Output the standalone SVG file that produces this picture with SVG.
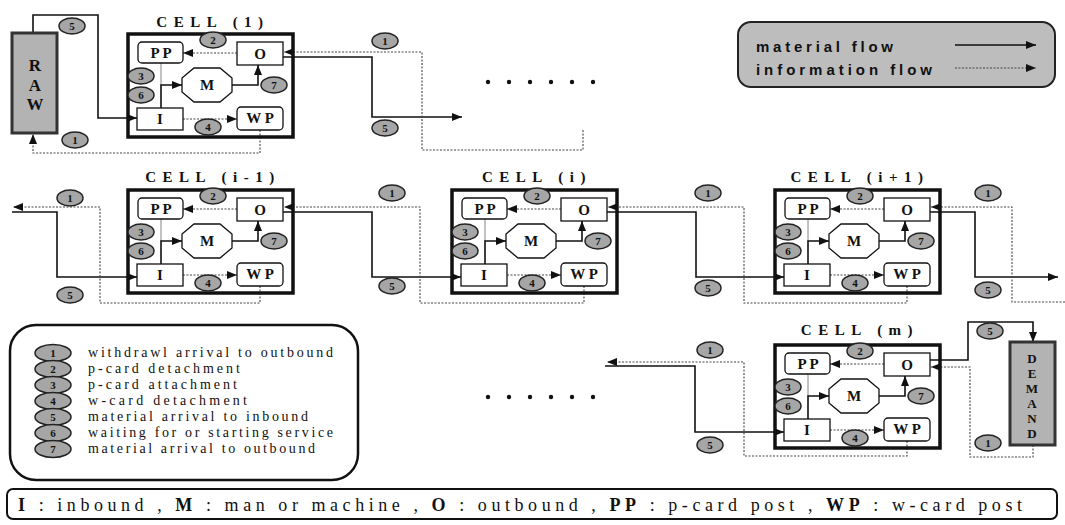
<svg xmlns="http://www.w3.org/2000/svg" width="1065" height="525" viewBox="0 0 1065 525">
<style>
.cell{fill:none;stroke:#111;stroke-width:3.5}
.box{fill:#fff;stroke:#111;stroke-width:1.3}
.lbl{font-family:"Liberation Serif",serif;font-weight:bold;font-size:15px;fill:#111;text-anchor:middle}
.title{font-family:"Liberation Serif",serif;font-weight:bold;font-size:15px;fill:#111;text-anchor:middle;letter-spacing:6.5px}
.mat{fill:none;stroke:#111;stroke-width:1.6}
.info{fill:none;stroke:#444;stroke-width:1.1;stroke-dasharray:2 1.5}
.thin{fill:none;stroke:#777;stroke-width:0.9}
.bdg ellipse{fill:#a6a6a6;stroke:#222;stroke-width:1.5}
.bdg text{font-family:"Liberation Serif",serif;font-weight:bold;font-size:11px;fill:#111;text-anchor:middle}
.stock{fill:#b3b3b3;stroke:#333;stroke-width:3}
.vt{font-family:"Liberation Serif",serif;font-weight:bold;fill:#111;text-anchor:middle}
.leg{font-family:"Liberation Serif",serif;font-size:14px;fill:#111}
.dot{fill:#111}
</style>
<defs>
<marker id="ah" viewBox="0 0 10 8" refX="10" refY="4" markerWidth="10" markerHeight="8" markerUnits="userSpaceOnUse" orient="auto"><path d="M0,0 L10,4 L0,8 z" fill="#111"/></marker>
<g id="cellbody">
<rect class="cell" x="0" y="0" width="165" height="103"/>
<path class="info" d="M109,19 H55" marker-end="url(#ah)"/>
<path class="thin" d="M33,29 V51"/>
<path class="mat" d="M33,74 V51 H54" marker-end="url(#ah)"/>
<path class="mat" d="M104,51 H130 V31" marker-end="url(#ah)"/>
<path class="info" d="M55,85 H109" marker-end="url(#ah)"/>
<rect class="box" x="10" y="8" width="45" height="21" rx="4"/>
<text class="lbl" x="33" y="24">P P</text>
<rect class="box" x="109" y="8" width="46" height="23"/>
<text class="lbl" x="132" y="25">O</text>
<polygon class="box" points="66,34 92,34 104,44 104,58 92,68 66,68 54,58 54,44"/>
<text class="lbl" x="79" y="56">M</text>
<rect class="box" x="9" y="74" width="46" height="22"/>
<text class="lbl" x="32" y="90">I</text>
<rect class="box" x="109" y="73" width="46" height="23" rx="4"/>
<text class="lbl" x="132" y="89">W P</text>
<g class="bdg"><ellipse cx="85" cy="6" rx="13" ry="8"/><text x="85" y="10">2</text></g>
<g class="bdg"><ellipse cx="13" cy="42" rx="13" ry="8"/><text x="13" y="46">3</text></g>
<g class="bdg"><ellipse cx="13" cy="61" rx="13" ry="8"/><text x="13" y="65">6</text></g>
<g class="bdg"><ellipse cx="146" cy="51" rx="13" ry="8"/><text x="146" y="55">7</text></g>
<g class="bdg"><ellipse cx="80" cy="93" rx="13" ry="8"/><text x="80" y="97">4</text></g>
</g>
</defs>

<g id="connectors">
<path class="mat" d="M33,33 V15 H98 V118 H137" marker-end="url(#ah)"/>
<path class="info" d="M260,130 V153 H33 V134" marker-end="url(#ah)"/>
<path class="mat" d="M283,57 H372 V117 H462" marker-end="url(#ah)"/>
<path class="info" d="M583,130 V150 H422 V52 H284" marker-end="url(#ah)"/>
<path class="mat" d="M12,212 H57 V277 H137" marker-end="url(#ah)"/>
<path class="info" d="M260,286 V303 H100 V207 H13" marker-end="url(#ah)"/>
<path class="mat" d="M283,212 H372 V277 H461" marker-end="url(#ah)"/>
<path class="info" d="M584,286 V303 H420 V207 H284" marker-end="url(#ah)"/>
<path class="mat" d="M607,212 H696 V277 H784" marker-end="url(#ah)"/>
<path class="info" d="M907,286 V303 H744 V207 H608" marker-end="url(#ah)"/>
<path class="mat" d="M930,212 H975 V277 H1058" marker-end="url(#ah)"/>
<path class="info" d="M1065,302 H1012 V207 H931" marker-end="url(#ah)"/>
<path class="mat" d="M605,366 H695 V432 H784" marker-end="url(#ah)"/>
<path class="info" d="M907,441 V456 H744 V362 H607" marker-end="url(#ah)"/>
<path class="mat" d="M930,360 H968 V322 H1033 V342" marker-end="url(#ah)"/>
<path class="info" d="M1033,445 V457 H970 V367 H931" marker-end="url(#ah)"/>
<g class="bdg"><ellipse cx="72" cy="26" rx="13" ry="8"/><text x="72" y="30">5</text></g>
<g class="bdg"><ellipse cx="75" cy="140" rx="13" ry="8"/><text x="75" y="144">1</text></g>
<g class="bdg"><ellipse cx="385" cy="41" rx="13" ry="8"/><text x="385" y="45">1</text></g>
<g class="bdg"><ellipse cx="385" cy="128" rx="13" ry="8"/><text x="385" y="132">5</text></g>
<g class="bdg"><ellipse cx="70" cy="198" rx="13" ry="8"/><text x="70" y="202">1</text></g>
<g class="bdg"><ellipse cx="70" cy="295" rx="13" ry="8"/><text x="70" y="299">5</text></g>
<g class="bdg"><ellipse cx="392" cy="193" rx="13" ry="8"/><text x="392" y="197">1</text></g>
<g class="bdg"><ellipse cx="392" cy="286" rx="13" ry="8"/><text x="392" y="290">5</text></g>
<g class="bdg"><ellipse cx="708" cy="193" rx="13" ry="8"/><text x="708" y="197">1</text></g>
<g class="bdg"><ellipse cx="708" cy="288" rx="13" ry="8"/><text x="708" y="292">5</text></g>
<g class="bdg"><ellipse cx="988" cy="193" rx="13" ry="8"/><text x="988" y="197">1</text></g>
<g class="bdg"><ellipse cx="988" cy="290" rx="13" ry="8"/><text x="988" y="294">5</text></g>
<g class="bdg"><ellipse cx="710" cy="350" rx="13" ry="8"/><text x="710" y="354">1</text></g>
<g class="bdg"><ellipse cx="710" cy="445" rx="13" ry="8"/><text x="710" y="449">5</text></g>
<g class="bdg"><ellipse cx="990" cy="331" rx="13" ry="8"/><text x="990" y="335">5</text></g>
<g class="bdg"><ellipse cx="988" cy="443" rx="13" ry="8"/><text x="988" y="447">1</text></g>
</g>

<g id="raw">
<rect class="stock" x="12" y="33" width="45" height="100"/>
<text class="vt" font-size="17" x="35" y="71">R</text>
<text class="vt" font-size="17" x="35" y="91">A</text>
<text class="vt" font-size="17" x="35" y="110">W</text>
</g>
<g id="demand">
<rect class="stock" x="1010" y="342" width="45" height="103"/>
<text class="vt" font-size="13" x="1032" y="363">D</text>
<text class="vt" font-size="13" x="1032" y="378">E</text>
<text class="vt" font-size="13" x="1032" y="393">M</text>
<text class="vt" font-size="13" x="1032" y="408">A</text>
<text class="vt" font-size="13" x="1032" y="423">N</text>
<text class="vt" font-size="13" x="1032" y="438">D</text>
</g>

<g id="cell-1">
<text class="title" x="213" y="27">CELL (1)</text>
<use href="#cellbody" transform="translate(128,34)"/>
</g>
<g id="cell-i-1">
<text class="title" x="213" y="182">CELL (i-1)</text>
<use href="#cellbody" transform="translate(128,190)"/>
</g>
<g id="cell-i">
<text class="title" x="537" y="182">CELL (i)</text>
<use href="#cellbody" transform="translate(452,190)"/>
</g>
<g id="cell-i1">
<text class="title" x="860" y="182">CELL (i+1)</text>
<use href="#cellbody" transform="translate(775,190)"/>
</g>
<g id="cell-m">
<text class="title" x="860" y="335">CELL (m)</text>
<use href="#cellbody" transform="translate(775,345)"/>
</g>

<g id="dots-top">
<circle class="dot" cx="488" cy="82" r="2.2"/><circle class="dot" cx="509" cy="82" r="2.2"/><circle class="dot" cx="530" cy="82" r="2.2"/><circle class="dot" cx="551" cy="82" r="2.2"/><circle class="dot" cx="572" cy="82" r="2.2"/><circle class="dot" cx="593" cy="82" r="2.2"/>
</g>
<g id="dots-bottom">
<circle class="dot" cx="488" cy="397" r="2.2"/><circle class="dot" cx="509" cy="397" r="2.2"/><circle class="dot" cx="530" cy="397" r="2.2"/><circle class="dot" cx="551" cy="397" r="2.2"/><circle class="dot" cx="572" cy="397" r="2.2"/><circle class="dot" cx="593" cy="397" r="2.2"/>
</g>

<g id="flow-legend">
<rect x="738" y="22" width="317" height="65" rx="13" fill="#bdbdbd" stroke="#222" stroke-width="2"/>
<text x="756" y="52" font-family="Liberation Sans,Arial,sans-serif" font-weight="bold" font-size="15" fill="#111" textLength="137" lengthAdjust="spacing">material flow</text>
<text x="756" y="75" font-family="Liberation Sans,Arial,sans-serif" font-weight="bold" font-size="15" fill="#111" textLength="176" lengthAdjust="spacing">information flow</text>
<path class="mat" d="M955,45 H1036" marker-end="url(#ah)"/>
<path class="info" d="M955,68 H1036" marker-end="url(#ah)"/>
</g>

<g id="event-legend">
<rect x="10" y="325" width="348" height="155" rx="26" fill="none" stroke="#111" stroke-width="2.5"/>
<g class="bdg"><ellipse cx="53" cy="353" rx="18" ry="8.5"/><text x="53" y="357">1</text></g>
<g class="bdg"><ellipse cx="53" cy="369" rx="18" ry="8.5"/><text x="53" y="373">2</text></g>
<g class="bdg"><ellipse cx="53" cy="385" rx="18" ry="8.5"/><text x="53" y="389">3</text></g>
<g class="bdg"><ellipse cx="53" cy="401" rx="18" ry="8.5"/><text x="53" y="405">4</text></g>
<g class="bdg"><ellipse cx="53" cy="417" rx="18" ry="8.5"/><text x="53" y="421">5</text></g>
<g class="bdg"><ellipse cx="53" cy="433" rx="18" ry="8.5"/><text x="53" y="437">6</text></g>
<g class="bdg"><ellipse cx="53" cy="449" rx="18" ry="8.5"/><text x="53" y="453">7</text></g>
<text class="leg" x="88" y="357" textLength="245" lengthAdjust="spacing">withdrawl arrival to outbound</text>
<text class="leg" x="88" y="373" textLength="152" lengthAdjust="spacing">p-card detachment</text>
<text class="leg" x="88" y="389" textLength="149" lengthAdjust="spacing">p-card attachment</text>
<text class="leg" x="88" y="405" textLength="159" lengthAdjust="spacing">w-card detachment</text>
<text class="leg" x="88" y="421" textLength="220" lengthAdjust="spacing">material arrival to inbound</text>
<text class="leg" x="88" y="437" textLength="245" lengthAdjust="spacing">waiting for or starting service</text>
<text class="leg" x="88" y="453" textLength="227" lengthAdjust="spacing">material arrival to outbound</text>
</g>

<g id="abbrev-bar">
<rect x="7" y="489" width="1050" height="30" rx="6" fill="none" stroke="#111" stroke-width="2"/>
<text x="18" y="511" font-family="Liberation Serif,serif" font-size="18" fill="#111" textLength="1004" lengthAdjust="spacing"><tspan font-weight="bold">I</tspan> : inbound , <tspan font-weight="bold">M</tspan> : man or machine , <tspan font-weight="bold">O</tspan> : outbound , <tspan font-weight="bold">PP</tspan> : p-card post , <tspan font-weight="bold">WP</tspan> : w-card post</text>
</g>
</svg>
